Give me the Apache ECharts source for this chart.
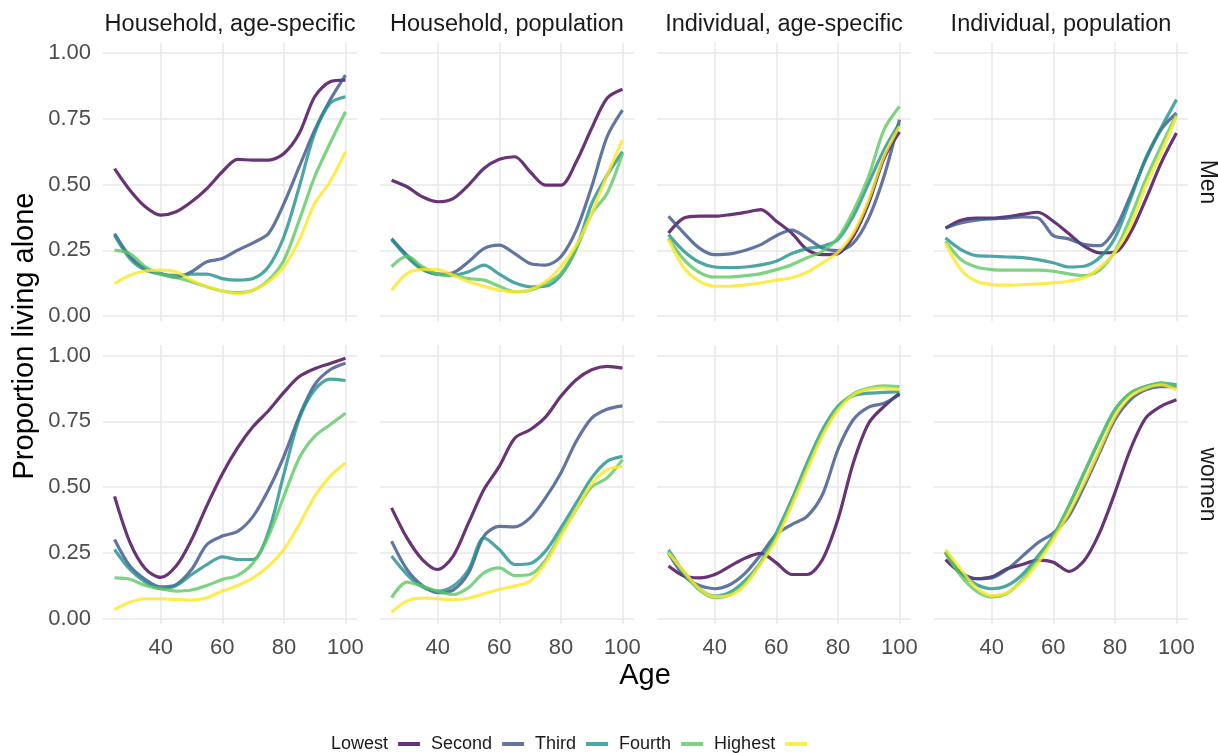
<!DOCTYPE html>
<html>
<head>
<meta charset="utf-8">
<script src="https://cdn.jsdelivr.net/npm/echarts@6/dist/echarts.min.js"></script>
<style>
  html, body { margin: 0; padding: 0; background: #fff; }
  #chart { width: 1218px; height: 753px; }
</style>
</head>
<body>
<div id="chart"></div>
<script>
const ages = [25, 30, 35, 40, 45, 50, 55, 60, 65, 70, 75, 80, 85, 90, 95, 100];
const groups = ['Lowest', 'Second', 'Third', 'Fourth', 'Highest'];
const columnTitles = ['Household, age-specific', 'Household, population', 'Individual, age-specific', 'Individual, population'];
const rowTitles = ['Men', 'women'];
const xTicks = [40, 60, 80, 100];
const yTicks = [0, 0.25, 0.5, 0.75, 1];

// each panel: one row per group, Lowest .. Highest, values at the ages above
const hhAgeMen = [
  [.561, .479, .416, .384, .397, .435, .485, .549, .596, .593, .593, .618, .695, .834, .891, .897],
  [.314, .228, .181, .162, .147, .169, .207, .219, .251, .279, .314, .428, .568, .707, .821, .916],
  [.308, .219, .175, .160, .155, .160, .160, .143, .137, .143, .188, .302, .492, .695, .809, .834],
  [.251, .238, .188, .160, .147, .131, .112, .096, .090, .099, .137, .213, .365, .530, .657, .777],
  [.124, .156, .172, .175, .169, .137, .112, .096, .086, .099, .131, .188, .289, .428, .511, .625]
];
const hhPopMen = [
  [.517, .492, .454, .435, .447, .498, .561, .596, .606, .549, .498, .498, .587, .714, .828, .862],
  [.295, .232, .181, .160, .165, .207, .257, .270, .238, .200, .194, .226, .327, .492, .682, .783],
  [.292, .226, .177, .160, .156, .169, .194, .160, .127, .112, .114, .156, .257, .428, .536, .625],
  [.188, .228, .188, .160, .155, .143, .137, .114, .093, .099, .124, .162, .257, .390, .466, .618],
  [.099, .162, .177, .177, .156, .131, .114, .099, .093, .101, .131, .188, .270, .390, .536, .669]
];
const indAgeMen = [
  [.316, .373, .380, .380, .386, .395, .405, .361, .316, .253, .234, .238, .304, .430, .600, .700],
  [.380, .316, .259, .234, .237, .251, .272, .306, .327, .297, .259, .249, .278, .373, .532, .747],
  [.310, .247, .205, .187, .185, .187, .195, .209, .238, .257, .266, .291, .380, .506, .633, .734],
  [.297, .215, .167, .149, .149, .154, .162, .177, .196, .222, .247, .297, .399, .532, .709, .797],
  [.291, .184, .133, .114, .114, .119, .127, .137, .146, .167, .203, .243, .316, .443, .608, .722]
];
const indPopMen = [
  [.335, .365, .373, .373, .378, .387, .395, .361, .314, .266, .241, .243, .316, .443, .582, .696],
  [.335, .354, .365, .370, .373, .377, .373, .306, .294, .273, .268, .329, .456, .595, .709, .772],
  [.297, .253, .230, .228, .225, .223, .215, .203, .187, .190, .222, .297, .443, .601, .715, .823],
  [.285, .215, .187, .177, .175, .175, .175, .171, .161, .154, .175, .247, .373, .519, .646, .766],
  [.278, .177, .133, .120, .118, .120, .123, .127, .133, .146, .184, .243, .342, .494, .620, .759]
];
const hhAgeWomen = [
  [.465, .290, .190, .157, .200, .300, .430, .550, .650, .730, .790, .860, .920, .950, .970, .990],
  [.301, .200, .149, .121, .130, .187, .282, .314, .332, .389, .490, .617, .769, .889, .946, .971],
  [.263, .187, .139, .114, .126, .168, .206, .235, .225, .225, .330, .550, .760, .870, .910, .905],
  [.155, .150, .126, .114, .105, .109, .126, .149, .165, .212, .314, .465, .611, .693, .737, .781],
  [.035, .063, .076, .076, .073, .071, .080, .105, .126, .155, .200, .263, .358, .465, .541, .592]
];
const hhPopWomen = [
  [.421, .307, .225, .187, .238, .364, .491, .579, .686, .718, .766, .845, .908, .946, .959, .952],
  [.295, .187, .126, .099, .109, .174, .314, .351, .349, .383, .459, .554, .674, .762, .796, .809],
  [.238, .168, .121, .105, .124, .187, .307, .263, .206, .210, .257, .345, .440, .535, .598, .617],
  [.080, .139, .124, .105, .092, .118, .174, .193, .164, .168, .222, .324, .415, .501, .535, .604],
  [.025, .067, .078, .076, .073, .078, .095, .111, .124, .143, .212, .314, .415, .513, .566, .579]
];
const indAgeWomen = [
  [.200, .162, .155, .168, .200, .231, .248, .212, .168, .168, .225, .377, .592, .743, .807, .857],
  [.249, .164, .126, .114, .130, .174, .244, .320, .358, .389, .472, .642, .756, .804, .819, .851],
  [.262, .177, .114, .086, .101, .147, .215, .326, .452, .592, .718, .807, .847, .857, .860, .863],
  [.256, .174, .109, .080, .092, .139, .215, .314, .440, .579, .706, .800, .854, .876, .885, .882],
  [.250, .180, .115, .084, .089, .130, .210, .300, .430, .565, .695, .792, .850, .872, .876, .870]
];
const indPopWomen = [
  [.225, .174, .152, .159, .190, .206, .223, .215, .180, .220, .326, .478, .642, .762, .807, .832],
  [.250, .174, .152, .155, .187, .238, .289, .326, .389, .503, .630, .756, .832, .870, .882, .882],
  [.256, .174, .130, .114, .126, .168, .238, .314, .427, .554, .680, .794, .857, .882, .895, .889],
  [.250, .162, .105, .083, .096, .149, .225, .314, .427, .554, .680, .794, .857, .882, .895, .882],
  [.263, .187, .118, .088, .099, .143, .212, .301, .402, .516, .642, .769, .845, .876, .889, .870]
];

const panels = [
  [hhAgeMen, hhPopMen, indAgeMen, indPopMen],
  [hhAgeWomen, hhPopWomen, indAgeWomen, indPopWomen]
];

// viridis, 5 levels, drawn a little transparent
const colours = ['rgba(68,1,84,0.8)', 'rgba(59,82,139,0.8)', 'rgba(33,144,140,0.8)', 'rgba(93,200,99,0.8)', 'rgba(253,231,37,0.8)'];

const colLeft = [103, 380, 657, 934];
const panelW = 254;
const rowTop = [42.5, 345];
const panelH = 279;

const grids = [], xAxes = [], yAxes = [], series = [], graphics = [];
const gridLine = { show: true, lineStyle: { color: '#e8e8e8', width: 1.5 } };
const tickText = { color: '#4d4d4d', fontSize: 22, fontFamily: 'Liberation Sans' };

panels.forEach((row, r) => {
  row.forEach((panel, c) => {
    const i = grids.length;
    grids.push({ left: colLeft[c], top: rowTop[r], width: panelW, height: panelH });
    xAxes.push({
      type: 'value', gridIndex: i, min: 21.25, max: 103.75,
      axisLine: { show: false },
      axisTick: { show: false, customValues: xTicks },
      axisLabel: Object.assign({ show: r === 1, customValues: xTicks, margin: 13 }, tickText),
      splitLine: gridLine
    });
    yAxes.push({
      type: 'value', gridIndex: i, min: -0.02, max: 1.04,
      axisLine: { show: false },
      axisTick: { show: false, customValues: yTicks },
      axisLabel: Object.assign({ show: c === 0, customValues: yTicks, margin: 12,
        formatter: v => v.toFixed(2) }, tickText),
      splitLine: gridLine
    });
    panel.forEach((vals, g) => {
      series.push({
        type: 'line', name: groups[g], xAxisIndex: i, yAxisIndex: i,
        data: ages.map((a, k) => [a, vals[k]]),
        showSymbol: false, symbol: 'none', smooth: 0.3,
        lineStyle: { width: 3.2, color: colours[g] },
        itemStyle: { color: colours[g] },
        emphasis: { disabled: true }
      });
    });
  });
});

columnTitles.forEach((t, c) => {
  graphics.push({ type: 'text', x: colLeft[c] + panelW / 2, y: 25,
    style: { text: t, fill: '#1a1a1a', font: '23.5px "Liberation Sans"', textAlign: 'center', textVerticalAlign: 'middle' } });
});
rowTitles.forEach((t, r) => {
  graphics.push({ type: 'text', x: 1207, y: rowTop[r] + panelH / 2, rotation: -Math.PI / 2,
    style: { text: t, fill: '#1a1a1a', font: '23px "Liberation Sans"', textAlign: 'center', textVerticalAlign: 'middle' } });
});
graphics.push({ type: 'text', x: 25, y: 336, rotation: Math.PI / 2,
  style: { text: 'Proportion living alone', fill: '#000', font: '29px "Liberation Sans"', textAlign: 'center', textVerticalAlign: 'middle' } });
graphics.push({ type: 'text', x: 645, y: 676,
  style: { text: 'Age', fill: '#000', font: '29px "Liberation Sans"', textAlign: 'center', textVerticalAlign: 'middle' } });

const chart = echarts.init(document.getElementById('chart'));
chart.setOption({
  animation: false,
  backgroundColor: '#fff',
  grid: grids,
  xAxis: xAxes,
  yAxis: yAxes,
  series: series,
  graphic: graphics,
  legend: {
    data: groups, left: 326, top: 730, align: 'right', icon: 'rect',
    itemWidth: 22, itemHeight: 4, itemGap: 11,
    textStyle: { fontFamily: 'Liberation Sans', fontSize: 18, color: '#1a1a1a', padding: [0, 5, 0, 0] }
  }
});
</script>
</body>
</html>
